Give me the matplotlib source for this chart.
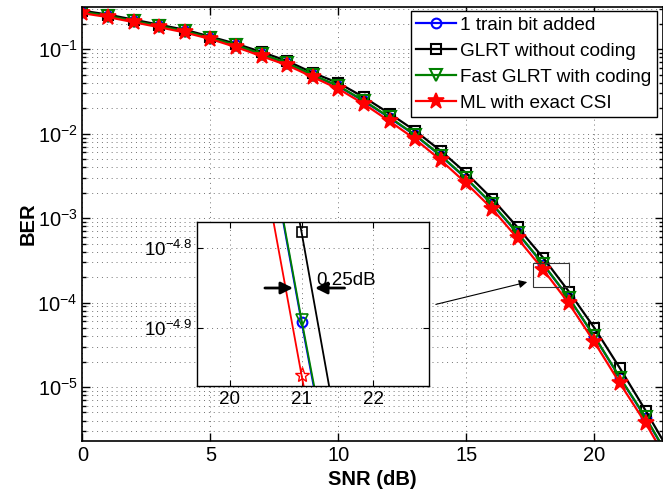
import matplotlib
matplotlib.use('Agg')
import matplotlib.pyplot as plt
from matplotlib.patches import Rectangle
from matplotlib.ticker import NullLocator, FixedLocator

plt.rcParams['font.family'] = ['Liberation Sans', 'DejaVu Sans']
plt.rcParams['mathtext.fontset'] = 'custom'
plt.rcParams['mathtext.rm'] = 'Liberation Sans'
plt.rcParams['mathtext.default'] = 'regular'

# BER curves vs SNR
snr = list(range(24))
ber_train = [0.275, 0.246, 0.214, 0.187, 0.163, 0.135, 0.111, 0.0868, 0.0678, 0.0490,
             0.0363, 0.0242, 0.0154, 0.00955, 0.00545, 0.00292, 0.00146, 6.6e-4,
             2.82e-4, 1.13e-4, 3.95e-5, 1.28e-5, 4.3e-6, 1.3e-6]
ber_glrt = [0.286, 0.257, 0.224, 0.195, 0.170, 0.141, 0.116, 0.0927, 0.0724, 0.0525,
            0.0398, 0.0269, 0.0173, 0.0108, 0.00624, 0.00339, 0.00170, 7.76e-4,
            3.39e-4, 1.35e-4, 5.0e-5, 1.66e-5, 5.25e-6, 1.58e-6]
ber_fast = [0.277, 0.248, 0.216, 0.188, 0.164, 0.136, 0.112, 0.0875, 0.0684, 0.0495,
            0.0367, 0.0245, 0.0156, 0.00964, 0.00550, 0.00295, 0.00148, 6.68e-4,
            2.85e-4, 1.14e-4, 3.98e-5, 1.29e-5, 4.37e-6, 1.32e-6]
ber_ml = [0.267, 0.240, 0.209, 0.182, 0.158, 0.132, 0.106, 0.0826, 0.0646, 0.0468,
          0.0339, 0.0224, 0.0140, 0.00859, 0.00484, 0.00257, 0.00129, 5.75e-4,
          2.45e-4, 9.77e-5, 3.39e-5, 1.10e-5, 3.72e-6, 1.12e-6]

labels = ['1 train bit added', 'GLRT without coding', 'Fast GLRT with coding', 'ML with exact CSI']

grid_style = dict(linestyle=(0, (1, 4)), color='0.45', lw=0.7)

fig = plt.figure(figsize=(6.63, 4.93), dpi=100)
ax = fig.add_axes([0.1244, 0.1055, 0.8756, 0.8803])

ax.semilogy(snr, ber_train, '-o', color='b', lw=1.6, ms=7, mfc='none', mew=1.5, label=labels[0])
ax.semilogy(snr, ber_glrt, '-s', color='k', lw=1.6, ms=7, mfc='none', mew=1.5, label=labels[1])
ax.semilogy(snr, ber_fast, '-v', color='g', lw=1.6, ms=8, mfc='none', mew=1.5, label=labels[2])
ax.semilogy(snr, ber_ml, '-*', color='r', lw=1.6, ms=12, mfc='r', mew=1.2, label=labels[3])

ax.set_xlim(0, 22.68)
ax.set_ylim(10**-5.64, 10**-0.5)
ax.set_xticks([0, 5, 10, 15, 20])
ax.xaxis.set_minor_locator(NullLocator())
ax.grid(True, which='major', **grid_style)
ax.grid(True, which='minor', axis='y', **grid_style)
ax.tick_params(which='both', direction='in', top=True, right=True, labelsize=14.5, width=1)
ax.tick_params(which='major', length=6)
ax.tick_params(which='minor', length=3)
for s in ax.spines.values():
    s.set_linewidth(1.2)
ax.set_xlabel('SNR (dB)', fontsize=14.5, fontweight='bold', labelpad=4)
ax.set_ylabel('BER', fontsize=14.5, fontweight='bold', labelpad=0)

leg = ax.legend(loc='upper right', bbox_to_anchor=(657 / 663, 1 - 11 / 493),
                bbox_transform=fig.transFigure, fontsize=13.7, fancybox=False,
                framealpha=1, edgecolor='k', borderaxespad=0, borderpad=0.3,
                handlelength=2.1, handletextpad=0.2, labelspacing=0.45)
leg.get_frame().set_linewidth(1.0)

# zoom box and pointer
ax.add_patch(Rectangle((17.6, 1.51e-4), 1.4, 2.92e-4 - 1.51e-4, fill=False,
                       edgecolor='0.2', lw=0.8, zorder=5))
ax.annotate('', xy=(17.48, 10**-3.75), xytext=(13.7, 10**-4.03),
            arrowprops=dict(arrowstyle='-|>', color='k', lw=0.8, mutation_scale=12))

# inset around SNR = 21 dB
ins = fig.add_axes([0.2971, 0.2170, 0.3499, 0.3327])
ins.semilogy(snr, ber_train, '-o', color='b', lw=1.3, ms=7, mfc='none', mew=1.5)
ins.semilogy(snr, ber_glrt, '-s', color='k', lw=1.3, ms=7, mfc='none', mew=1.2)
ins.semilogy(snr, ber_fast, '-v', color='g', lw=1.3, ms=8, mfc='none', mew=1.2)
ins.semilogy(snr, ber_ml, '-*', color='r', lw=1.3, ms=11, mfc='none', mew=1.0)
ins.set_xlim(19.54, 22.78)
ins.set_ylim(10**-4.9725, 10**-4.7675)
ins.xaxis.set_major_locator(FixedLocator([20, 21, 22]))
ins.xaxis.set_minor_locator(NullLocator())
ins.set_yticks([10**-4.9, 10**-4.8])
ins.set_yticklabels([r'$10^{-4.9}$', r'$10^{-4.8}$'])
ins.yaxis.set_minor_locator(NullLocator())
ins.grid(True, **grid_style)
ins.tick_params(direction='in', top=True, right=True, labelsize=13.5, length=4)
for s in ins.spines.values():
    s.set_linewidth(1.0)

ins.annotate('', xy=(20.92, 10**-4.85), xytext=(20.45, 10**-4.85),
             arrowprops=dict(arrowstyle='-|>', color='k', lw=2, mutation_scale=18))
ins.annotate('', xy=(21.15, 10**-4.85), xytext=(21.64, 10**-4.85),
             arrowprops=dict(arrowstyle='-|>', color='k', lw=2, mutation_scale=18))
ins.text(21.2, 10**-4.84, '0.25dB', fontsize=13.5, ha='left', va='center')

fig.savefig('out.png', dpi=100)
